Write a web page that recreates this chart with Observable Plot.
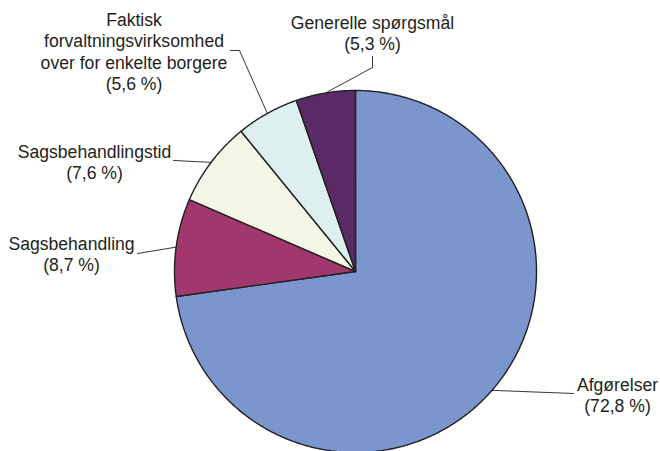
<!DOCTYPE html>
<html><head><meta charset="utf-8">
<script src="https://cdn.jsdelivr.net/npm/d3@7"></script>
<script src="https://cdn.jsdelivr.net/npm/@observablehq/plot@0.6"></script>
<style>body{margin:0;background:#fff}</style>
</head><body><div id="chart"></div>
<script>
// ---- data ----
const categories = ["Afgørelser", "Sagsbehandling", "Sagsbehandlingstid", "Faktisk forvaltningsvirksomhed over for enkelte borgere", "Generelle spørgsmål"];
const shares = [72.8, 8.7, 7.6, 5.6, 5.3];
const labelTexts = ["Afgørelser\n(72,8 %)", "Sagsbehandling\n(8,7 %)", "Sagsbehandlingstid\n(7,6 %)", "Faktisk\nforvaltningsvirksomhed\nover for enkelte borgere\n(5,6 %)", "Generelle spørgsmål\n(5,3 %)"];

// ---- style / layout ----
const colors = ["#7a96cc", "#a0386e", "#f4f7e5", "#ddefee", "#5a2a66"];
const W = 660, H = 451, CX = 355, CY = 271, R = 181;
const ink = "#231f20";
// label text anchor (pixels) and leader elbow points (pixels)
const labelX = [617, 71, 94, 133.5, 372];
const labelTop = [375.5, 234.5, 142.5, 10.5, 13.5];
const leaderPts = [[[573, 393]], [[137, 253]], [[173, 160]], [[239, 50], [230, 50]], [[372, 67], [372, 56]]];

const ux = px => (px - CX) / R;
const uy = py => (CY - py) / R;

const total = d3.sum(shares);
let cum = 0;
const slices = [];
const leaders = [];
shares.forEach((v, i) => {
  const a0 = cum / total * 2 * Math.PI;
  cum += v;
  const a1 = cum / total * 2 * Math.PI;
  slices.push({name: categories[i], x: 0, y: 0});
  const n = Math.max(2, Math.ceil((a1 - a0) / (Math.PI / 360)));
  for (let k = 0; k <= n; k++) {
    const a = a0 + (a1 - a0) * k / n;
    slices.push({name: categories[i], x: Math.sin(a), y: Math.cos(a)});
  }
  const am = (a0 + a1) / 2;
  leaders.push({name: categories[i], x: Math.sin(am), y: Math.cos(am)});
  leaderPts[i].forEach(p => leaders.push({name: categories[i], x: ux(p[0]), y: uy(p[1])}));
});
const labels = categories.map((c, i) => ({name: c, text: labelTexts[i], x: ux(labelX[i]), y: uy(labelTop[i])}));

const chart = Plot.plot({
  width: W, height: H,
  margin: 0,
  x: {domain: [ux(0), ux(W)], axis: null},
  y: {domain: [uy(H), uy(0)], axis: null},
  color: {domain: categories, range: colors},
  style: {fontFamily: "'Liberation Sans', Arial, sans-serif", background: "#fff"},
  marks: [
    Plot.line(slices, {x: "x", y: "y", z: "name", fill: "name", stroke: ink, strokeWidth: 1.4, curve: "linear-closed", strokeLinejoin: "round"}),
    Plot.line(leaders, {x: "x", y: "y", z: "name", stroke: ink, strokeWidth: 0.9}),
    Plot.text(labels, {x: "x", y: "y", text: "text", textAnchor: "middle", lineAnchor: "top", lineHeight: 1.21, fontSize: 17.6, fill: ink})
  ]
});
document.getElementById("chart").appendChild(chart);
</script>
</body></html>
